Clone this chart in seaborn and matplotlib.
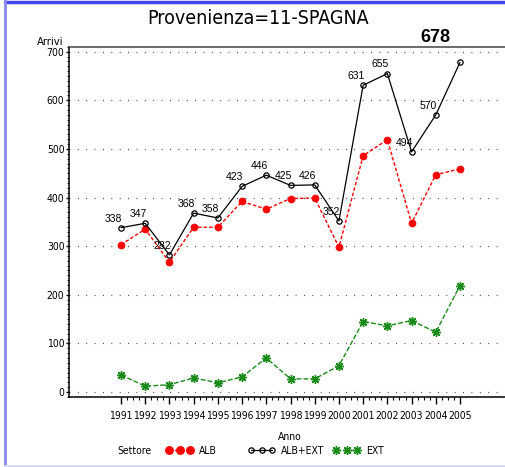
import matplotlib
matplotlib.use("Agg")
import numpy as np
import pandas as pd
import seaborn as sns
import matplotlib.pyplot as plt
from matplotlib.lines import Line2D
from matplotlib.ticker import FixedLocator, MultipleLocator
from matplotlib import font_manager

# ---- data ----
years = list(range(1991, 2006))
alb_ext = [338, 347, 282, 368, 358, 423, 446, 425, 426, 352, 631, 655, 494, 570, 678]
alb = [303, 335, 267, 339, 339, 392, 376, 398, 399, 298, 486, 519, 347, 447, 459]
ext = [35, 12, 15, 29, 19, 31, 70, 27, 27, 54, 145, 136, 147, 123, 219]
y_ticks = [0, 100, 200, 300, 400, 500, 600, 700]
series_names = ["ALB", "ALB+EXT", "EXT"]
title_text = "Provenienza=11-SPAGNA"
x_label = "Anno"
y_label = "Arrivi"
legend_title = "Settore"

sns.set_style("white")
plt.rcParams["font.family"] = ["DejaVu Sans"]
for k in ["text.color", "axes.labelcolor", "xtick.color", "ytick.color"]:
    plt.rcParams[k] = "black"

# is a condensed face available?
cond = [f for f in font_manager.fontManager.ttflist if f.stretch in ("condensed", 'semi-condensed') or "Narrow" in f.name or "Condensed" in f.name]
HAS_COND = len(cond) > 0
STRETCH = "condensed" if HAS_COND else "normal"
SMALL = 7.5 if HAS_COND else 6.3

W, H = 505, 467
fig = plt.figure(figsize=(W / 100, H / 100), dpi=100)

def fx(px):
    return px / W

def fy(py):
    return 1 - py / H

ax_left, ax_right, ax_top, ax_bottom = 69.3, 505, 46.5, 397.3
ax = fig.add_axes([fx(ax_left), fy(ax_bottom), fx(ax_right - ax_left), (ax_bottom - ax_top) / H])

df = pd.DataFrame({"Anno": years, "ALB": alb, "ALB+EXT": alb_ext, "EXT": ext})

RED_MS, BLK_MS, GRN_MS = 4.8, 3.8, 6.5
STAR = (8, 2, 0)

sns.lineplot(data=df, x="Anno", y="ALB", ax=ax, color="#ff0000", lw=1.0,
             linestyle=(0, (2.5, 1.5)), marker="o", markersize=RED_MS,
             markerfacecolor="#ff0000", markeredgecolor="#ff0000", errorbar=None, zorder=3)
sns.lineplot(data=df, x="Anno", y="EXT", ax=ax, color="#1a8a1a", lw=1.0,
             linestyle=(0, (3.5, 1.5)), marker=STAR, markersize=GRN_MS, markeredgewidth=1.0,
             markeredgecolor="#1a8a1a", errorbar=None, zorder=3)
sns.lineplot(data=df, x="Anno", y="ALB+EXT", ax=ax, color="black", lw=0.9,
             marker="o", markersize=BLK_MS, markerfacecolor="none", markeredgecolor="black",
             markeredgewidth=0.9, errorbar=None, zorder=4)

# value labels for ALB+EXT (the last one is shown big above the frame)
for xv, yv in zip(years[:-1], alb_ext[:-1]):
    ax.annotate(str(yv), (xv, yv), xytext=(1, 3), textcoords="offset points",
                ha="right", va="bottom", fontsize=7.5, family=["Liberation Sans", "DejaVu Sans"])
ax.annotate(str(alb_ext[-1]), (years[-1], 1), xycoords=("data", "axes fraction"),
            xytext=(-18, 0), textcoords="offset points", ha="center", va="bottom",
            fontsize=13, fontweight="bold", family=["Liberation Sans", "DejaVu Sans"],
            annotation_clip=False)

# scales
px_per_unit = 340.3 / 700
ax.set_ylim(-(397.3 - 392) / px_per_unit, 700 + (51.7 - 46.5) / px_per_unit)
xs = (460 - 121) / 14
ax.set_xlim(1991 - (121 - ax_left) / xs, 2005 + (ax_right - 460) / xs)

ax.yaxis.set_major_locator(FixedLocator(y_ticks))
ax.yaxis.set_minor_locator(MultipleLocator(10))
ax.xaxis.set_major_locator(FixedLocator(years))
minor_x = [y + q for y in years[:-1] for q in (0.25, 0.5, 0.75)]
ax.xaxis.set_minor_locator(FixedLocator(minor_x))
ax.set_xticklabels([str(y) for y in years], fontstretch=STRETCH)
ax.set_yticklabels([str(v) for v in y_ticks], fontstretch=STRETCH)

ax.tick_params(axis="x", which="major", direction="out", length=5, width=1, pad=5,
               labelsize=SMALL, bottom=True)
ax.tick_params(axis="x", which="minor", direction="out", length=2.5, width=0.8, bottom=True)
ax.tick_params(axis="y", which="major", direction="out", length=2.5, width=1, pad=1,
               labelsize=SMALL, left=True)
ax.tick_params(axis="y", which="minor", direction="out", length=1.2, width=0.6, left=True)

for yv in y_ticks:
    ax.axhline(yv, color="#333333", lw=0.9, linestyle=(0, (0.7, 6)), zorder=1)

for s in ["left", "bottom", "top"]:
    ax.spines[s].set_visible(True)
    ax.spines[s].set_color("black")
    ax.spines[s].set_linewidth(1.1)
ax.spines["top"].set_color("#444444")
ax.spines["right"].set_visible(False)
ax.set_xlabel("")
ax.set_ylabel("")

# texts
fig.text(fx(258), fy(18), title_text, ha="center", va="center",
         fontsize=14 if HAS_COND else 12, fontstretch=STRETCH)
fig.text(fx(50), fy(42), y_label, ha="center", va="center", fontsize=SMALL + 0.5, fontstretch=STRETCH)
fig.text(fx(290), fy(437), x_label, ha="center", va="center", fontsize=SMALL, fontstretch=STRETCH)
fig.text(fx(117), fy(451), legend_title, ha="left", va="center", fontsize=SMALL, fontstretch=STRETCH)

# legend entries
handles = [
    Line2D([], [], color="#ff0000", lw=1.0, linestyle=(0, (2.5, 1.5)), marker="o",
           markersize=RED_MS + 0.6, markerfacecolor="#ff0000", markeredgecolor="#ff0000"),
    Line2D([], [], color="black", lw=0.9, marker="o", markersize=BLK_MS,
           markerfacecolor="none", markeredgecolor="black", markeredgewidth=0.9),
    Line2D([], [], color="#1a8a1a", lw=1.0, linestyle=(0, (3.5, 1.5)), marker=STAR,
           markersize=GRN_MS, markeredgewidth=1.0, markeredgecolor="#1a8a1a"),
]
leg_x = [166, 248, 333]
for h, name, lx in zip(handles, series_names, leg_x):
    fig.legend([h], [name], loc="center left", bbox_to_anchor=(fx(lx), fy(451)),
               frameon=False, numpoints=3, handlelength=2.6, handletextpad=0.6,
               borderpad=0, borderaxespad=0,
               prop={"size": SMALL, "stretch": STRETCH})

# page decorations (frame lines of the original output)
fig.add_artist(Line2D([fx(5), 1], [fy(2), fy(2)], color="#4444ee", lw=2.5))
fig.add_artist(Line2D([fx(4.5), fx(4.5)], [fy(0), fy(467)], color="#8888ee", lw=2))
fig.add_artist(Line2D([fx(5), 1], [fy(465.5), fy(465.5)], color="#d8d8f8", lw=1.5))

fig.savefig("out.png", dpi=100)
